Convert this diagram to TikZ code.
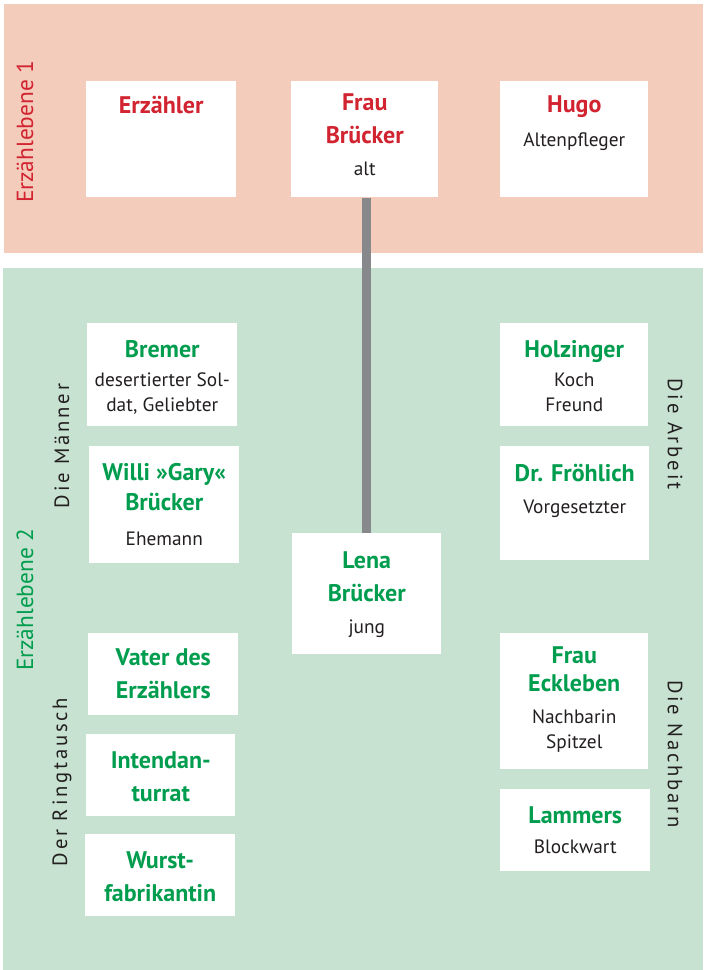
\documentclass[tikz,border=0pt]{standalone}
\usepackage{fontspec}
\setmainfont{PT Sans}
\newfontfamily\spacedfont[LetterSpace=13.5]{PT Sans}
\usepackage{tikz}
\usetikzlibrary{positioning,calc}
\definecolor{lvlred}{RGB}{210,35,48}
\definecolor{lvlgreen}{RGB}{0,157,78}
\definecolor{pinkbg}{RGB}{243,204,188}
\definecolor{greenbg}{RGB}{199,226,209}
\definecolor{linegray}{RGB}{135,136,139}
\definecolor{txt}{RGB}{35,31,32}
\newdimen\unitpx \unitpx=0.75pt
\newcommand{\namefont}{\fontsize{18pt}{24.75pt}\selectfont\bfseries}
\newcommand{\rolefont}{\fontsize{14.5pt}{18.4pt}\selectfont}
\newcommand{\nm}[2][lvlgreen]{{\namefont\leavevmode\color{#1}#2\par}}
\newcommand{\rl}[2][7.5]{\vspace{#1\unitpx}{\rolefont\leavevmode\color{txt}#2\par}}
\newcommand{\cardbox}[4][17.5]{\parbox[t][#3\unitpx][t]{#2\unitpx}{\centering\vspace*{#1\unitpx}#4}}
\tikzstyle{card} = [fill=white, inner sep=0pt, anchor=north west]
\tikzstyle{level} = [inner sep=0pt, font=\fontsize{17.5pt}{20pt}\selectfont]
\tikzstyle{group} = [inner sep=0pt, text=txt, font=\spacedfont\fontsize{15.5pt}{18pt}\selectfont]
\tikzstyle{link} = [draw=linegray, line width=6.75pt]
\begin{document}
\begin{tikzpicture}[x=0.75pt, y=-0.75pt]
	\useasboundingbox (0,0) rectangle (703,970);
	% the two levels
	\fill[pinkbg] (4,4) rectangle (703,253);
	\fill[greenbg] (3,268) rectangle (703,970);
	\node (lvl1) [level, text=lvlred, rotate=90] at (25,132) {Erzählebene 1};
	\node (lvl2) [level, text=lvlgreen, rotate=90] at (25,600) {Erzählebene 2};
	\node (men) [group, rotate=90] at (62,446) {Die Männer};
	\node (ring) [group, rotate=90] at (62,782) {Der Ringtausch};
	\node (work) [group, rotate=-90] at (675,434) {Die Arbeit};
	\node (neigh) [group, rotate=-90] at (675,754) {Die Nachbarn};
	% level 1
	\node (erz) [card] at (86,81) {\cardbox[14.5]{150}{116}{\nm[lvlred]{Erzähler}}};
	\node (frau) [card] at (291,81) {\cardbox[12.5]{147}{116}{\nm[lvlred]{Frau\\Brücker}\rl{alt}}};
	\node (hugo) [card] at (500,81) {\cardbox[14.5]{148}{116}{\nm[lvlred]{Hugo}\rl[9]{Altenpfleger}}};
	% level 2
	\node (bremer) [card] at (87,323) {\cardbox{150}{103}{\nm{Bremer}\rl[4.5]{desertierter Sol-\\dat, Geliebter}}};
	\node (willi) [card] at (89,446) {\cardbox{150}{117}{\nm{Willi »Gary«\\[-3\unitpx]Brücker}\rl[10.5]{Ehemann}}};
	\node (vater) [card] at (88,633) {\cardbox[15.5]{150}{82}{\nm{Vater des\\Erzählers}}};
	\node (intend) [card] at (86,734) {\cardbox{149}{82}{\nm{Intendan-\\turrat}}};
	\node (wurst) [card] at (85,834) {\cardbox{150}{82}{\nm{Wurst-\\fabrikantin}}};
	\node (lena) [card] at (292,533) {\cardbox[18.5]{149}{121}{\nm{Lena\\Brücker}\rl{jung}}};
	\node (holz) [card] at (500,323) {\cardbox{148}{103}{\nm{Holzinger}\rl[4.5]{Koch\\Freund}}};
	\node (froh) [card] at (500,446) {\cardbox{149}{114}{\nm{Dr. Fröhlich}\rl{Vorgesetzter}}};
	\node (eck) [card] at (500,633) {\cardbox[13.5]{148}{136}{\nm{Frau\\[-5\unitpx]Eckleben}\rl{Nachbarin\\Spitzel}}};
	\node (lammers) [card] at (500,789) {\cardbox{150}{82}{\nm{Lammers}\rl[5.5]{Blockwart}}};
	% old and young Lena
	\draw [link] (lena.north |- frau.south) -- (lena.north);
\end{tikzpicture}
\end{document}
